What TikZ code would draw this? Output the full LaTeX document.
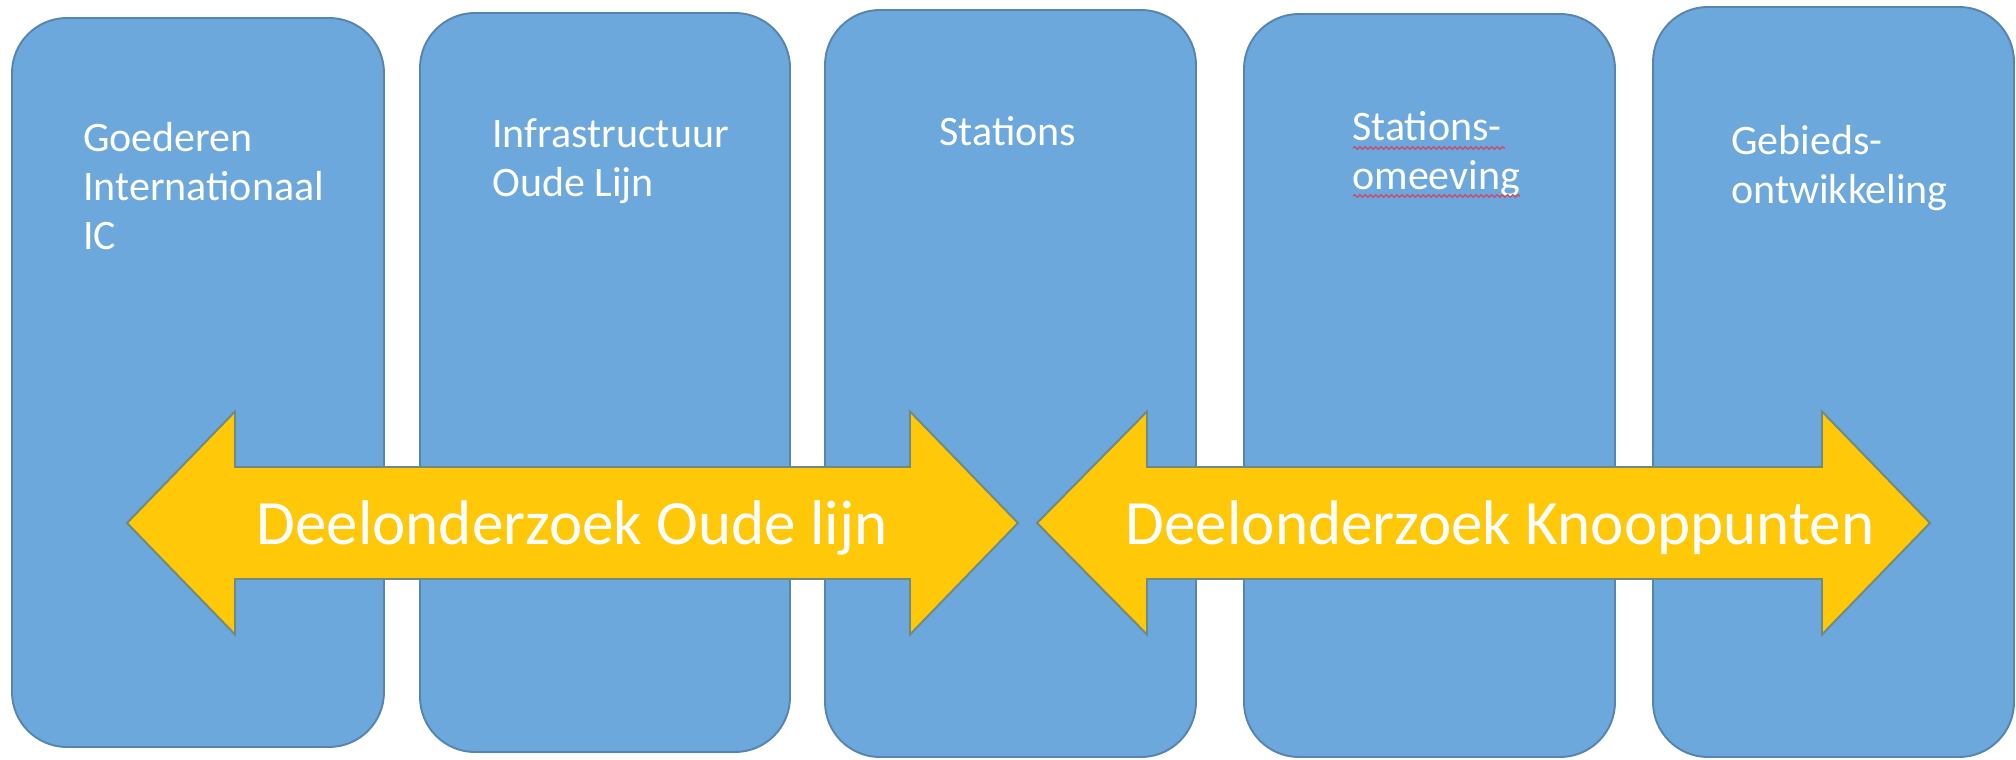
\documentclass[tikz,border=0pt]{standalone}
\usepackage{fontspec}
\setmainfont{Carlito}
\usetikzlibrary{decorations.pathmorphing}
\definecolor{laneblue}{RGB}{108,168,220}
\definecolor{laneedge}{RGB}{88,132,176}
\definecolor{bandgold}{RGB}{255,200,8}
\definecolor{bandedge}{RGB}{112,138,128}
\definecolor{spellred}{RGB}{196,80,110}
\tikzset{
  lane/.style={draw=laneedge, fill=laneblue, line width=1.1pt, rounded corners=1.1cm, inner sep=0pt},
  lanetext/.style={text=white, font=\fontsize{23.9}{27.9}\selectfont, align=left, inner sep=0pt},
  band/.style={draw=bandedge, fill=bandgold, line width=1.1pt, line join=miter},
  bandtext/.style={text=white, font=\fontsize{35.9}{43}\selectfont, inner sep=0pt},
  spell/.style={draw=spellred, line width=0.8pt, decorate, decoration={snake, amplitude=0.7pt, segment length=3pt}}
}
\begin{document}
\begin{tikzpicture}
    \useasboundingbox (0,0) rectangle (40.32,15.18);
    % Draw the five columns
    \node[lane, minimum width=7.44cm, minimum height=14.58cm] (goederen) at (3.96,7.53) {};
    \node[lane, minimum width=7.40cm, minimum height=14.78cm] (infra) at (12.10,7.53) {};
    \node[lane, minimum width=7.42cm, minimum height=14.94cm] (stations) at (20.21,7.51) {};
    \node[lane, minimum width=7.42cm, minimum height=14.86cm] (omgeving) at (28.59,7.47) {};
    \node[lane, minimum width=7.22cm, minimum height=15.00cm] (gebied) at (36.67,7.54) {};

    % Column titles (base = last line)
    \node[lanetext, anchor=base west] (goederentxt) at (1.66,10.18) {Goederen\\Internationaal\\IC};
    \node[lanetext, anchor=base west] (infratxt) at (9.84,11.24) {Infrastructuur\\Oude Lijn};
    \node[lanetext, anchor=base] (stationstxt) at (20.16,12.26) {Stations};
    \node[lanetext, anchor=base west] (omgevingtxt) at (27.04,11.38) {Stations-\\omeeving};
    \node[lanetext, anchor=base west] (gebiedtxt) at (34.62,11.10) {Gebieds-\\ontwikkeling};
    \draw[spell] (27.06,12.22) -- (30.10,12.22);
    \draw[spell] (27.06,11.26) -- (30.40,11.26);

    % Draw the two double arrows
    \draw[band] (2.54,4.72) -- (4.70,6.95) -- (4.70,5.84) -- (18.20,5.84) -- (18.20,6.95) -- (20.36,4.72)
        -- (18.20,2.49) -- (18.20,3.60) -- (4.70,3.60) -- (4.70,2.49) -- cycle;
    \draw[band] (20.74,4.72) -- (22.94,6.95) -- (22.94,5.84) -- (36.44,5.84) -- (36.44,6.95) -- (38.60,4.72)
        -- (36.44,2.49) -- (36.44,3.60) -- (22.94,3.60) -- (22.94,2.49) -- cycle;

    \node[bandtext, anchor=base] (oudelijn) at (11.44,4.28) {Deelonderzoek Oude lijn};
    \node[bandtext, anchor=base] (knooppunten) at (30.00,4.28) {Deelonderzoek Knooppunten};
\end{tikzpicture}
\end{document}
